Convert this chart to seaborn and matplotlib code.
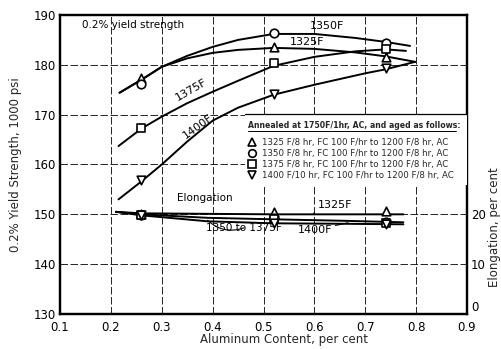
import numpy as np
import pandas as pd
import matplotlib
matplotlib.use("Agg")
import matplotlib.pyplot as plt
import seaborn as sns
from matplotlib.lines import Line2D
from matplotlib.patches import Rectangle

sns.set_style("white")
plt.rcParams['font.family'] = ['DejaVu Sans']

# ---------------- data ----------------
aluminum = [0.26, 0.52, 0.74]

# 0.2% yield strength, 1000 psi (markers)
ys_1325 = [177.3, 183.6, 181.6]
ys_1350 = [176.2, 186.3, 184.4]
ys_1375 = [167.3, 180.4, 183.1]
ys_1400 = [156.9, 174.1, 179.3]

# yield-strength curves
curve_x_1325 = [0.217, 0.26, 0.30, 0.35, 0.40, 0.45, 0.52, 0.60, 0.68, 0.74, 0.798]
curve_y_1325 = [174.4, 177.0, 179.6, 181.3, 182.4, 183.0, 183.4, 183.2, 182.5, 181.7, 180.6]
curve_x_1350 = [0.217, 0.26, 0.30, 0.35, 0.40, 0.45, 0.52, 0.60, 0.68, 0.74, 0.788]
curve_y_1350 = [174.4, 177.0, 179.6, 181.8, 183.6, 185.0, 186.2, 186.2, 185.4, 184.6, 183.8]
curve_x_1375 = [0.215, 0.26, 0.30, 0.35, 0.40, 0.45, 0.52, 0.60, 0.68, 0.74, 0.78]
curve_y_1375 = [163.7, 167.2, 169.6, 172.3, 174.6, 176.8, 179.8, 181.6, 182.7, 183.1, 182.8]
curve_x_1400 = [0.215, 0.26, 0.30, 0.35, 0.40, 0.45, 0.52, 0.60, 0.70, 0.74, 0.798]
curve_y_1400 = [153.0, 156.6, 160.0, 164.6, 168.8, 171.4, 174.0, 176.0, 178.3, 179.1, 180.6]

# elongation, per cent (markers)
el_1325 = [20.0, 20.5, 20.6]
el_1350 = [19.9, 19.3, 18.4]
el_1375 = [19.9, 19.1, 18.2]
el_1400 = [19.8, 18.3, 18.1]

# elongation lines
el_line_x = [0.21, 0.26, 0.39, 0.52, 0.66, 0.775]
el_line_1325 = [20.5, 20.2, 20.1, 20.0, 20.0, 20.0]
el_line_1350_1375 = [20.5, 20.0, 19.3, 19.0, 18.7, 18.4]
el_line_1400 = [20.5, 19.8, 18.6, 18.2, 18.1, 18.0]

x_ticks = [0.1, 0.2, 0.3, 0.4, 0.5, 0.6, 0.7, 0.8, 0.9]
x_tick_labels = ["0.1", "0.2", "0.3", "0.4", "0.5", "0.6", "0.7", "0.8", "0.9"]
y_ticks = [130, 140, 150, 160, 170, 180, 190]
el_ticks = [0, 10, 20]

legend_labels = [
    "1325 F/8 hr, FC 100 F/hr to 1200 F/8 hr, AC",
    "1350 F/8 hr, FC 100 F/hr to 1200 F/8 hr, AC",
    "1375 F/8 hr, FC 100 F/hr to 1200 F/8 hr, AC",
    "1400 F/10 hr, FC 100 F/hr to 1200 F/8 hr, AC",
]
legend_title = "Annealed at 1750F/1hr, AC, and aged as follows:"

# ---------------- figure ----------------
W, H = 502, 349
fig = plt.figure(figsize=(W / 100, H / 100), dpi=100)
ax = fig.add_axes([60 / W, 35 / H, 407 / W, 299 / H])
ax2 = ax.twinx()

ax.set_xlim(0.1, 0.9)
ax.set_ylim(130, 190)

ax.set_xticks(x_ticks)
ax.set_xticklabels(x_tick_labels)
ax.set_yticks(y_ticks)

ax.grid(True, color="black", linewidth=0.6, linestyle=(0, (9, 3)))
for a in (ax, ax2):
    for sp in a.spines.values():
        sp.set_linewidth(1.6)
        sp.set_color("black")

ax.tick_params(axis="y", length=0, labelsize=8.5, pad=3, colors="black")
ax.tick_params(axis="x", length=0, labelsize=8.5, pad=5, colors="black")
ax2.tick_params(axis="y", length=0, labelsize=8.5, pad=3, colors="black")

lw = 1.4
msize = 38
markers = ["^", "o", "s", "v"]
ys_sets = [ys_1325, ys_1350, ys_1375, ys_1400]
curves = [(curve_x_1325, curve_y_1325), (curve_x_1350, curve_y_1350),
          (curve_x_1375, curve_y_1375), (curve_x_1400, curve_y_1400)]

for cx, cy in curves:
    sns.lineplot(x=cx, y=cy, ax=ax, color="black", linewidth=lw, sort=False,
                 estimator=None, zorder=3)

for m, ys in zip(markers, ys_sets):
    sns.scatterplot(x=aluminum, y=ys, ax=ax, marker=m, s=msize, facecolor="white",
                    edgecolor="black", linewidth=1.2, zorder=4, legend=False)

# elongation
for el in [el_line_1325, el_line_1350_1375, el_line_1400]:
    sns.lineplot(x=el_line_x, y=el, ax=ax2, color="black", linewidth=lw,
                 sort=False, estimator=None, zorder=3)
el_sets = [el_1325, el_1350, el_1375, el_1400]
for m, el in zip(markers, el_sets):
    sns.scatterplot(x=aluminum, y=el, ax=ax2, marker=m, s=msize, facecolor="white",
                    edgecolor="black", linewidth=1.2, zorder=4, legend=False)
ax2.set_ylim(0, 60)
ax2.set_yticks(el_ticks)
ax2.set_ylabel("")
for lbl in ax2.get_yticklabels():
    if lbl.get_text() == "0":
        lbl.set_va("bottom")

# labels
ax.set_xlabel("")
ax.set_ylabel("0.2% Yield Strength, 1000 psi", fontsize=8.5, labelpad=8)
fig.text(284 / W, 1 - 340 / H, "Aluminum Content, per cent", ha="center",
         va="center", fontsize=8.5)
fig.text(495 / W, 1 - 227 / H, "Elongation, per cent", ha="center",
         va="center", rotation=90, fontsize=8.5)

# annotations
tk = dict(color="black", zorder=6)
ax.text(0.143, 188.0, "0.2% yield strength", ha="left", va="center", fontsize=7.5, **tk)
ax.text(0.625, 187.8, "1350F", ha="center", va="center", fontsize=8, **tk)
ax.text(0.586, 184.6, "1325F", ha="center", va="center", fontsize=8, **tk)
ax.text(0.359, 174.9, "1375F", ha="center", va="center", fontsize=8, rotation=30, **tk)
ax.text(0.371, 167.6, "1400F", ha="center", va="center", fontsize=8, rotation=36, **tk)
ax.text(0.385, 153.3, "Elongation", ha="center", va="center", fontsize=7.5, **tk)
ax.annotate("1325F", xy=(0.598, 150.1), xytext=(0.640, 151.9), ha="center",
            va="center", fontsize=8,
            arrowprops=dict(arrowstyle="-", color="black", lw=0.8,
                            connectionstyle="arc3,rad=0.3",
                            shrinkA=8, shrinkB=0), **tk)
ax.annotate("1350 to 1375F", xy=(0.390, 148.8), xytext=(0.462, 147.3), ha="center",
            va="center", fontsize=7.5,
            arrowprops=dict(arrowstyle="-", color="black", lw=0.8,
                            connectionstyle="arc3,rad=-0.3",
                            shrinkA=32, shrinkB=0), **tk)
ax.annotate("1400F", xy=(0.666, 148.3), xytext=(0.601, 146.9), ha="center",
            va="center", fontsize=8,
            arrowprops=dict(arrowstyle="-", color="black", lw=0.8,
                            shrinkA=10, shrinkB=0), **tk)

# legend box: white panel, top rule, underlined title, entries
ax2.add_patch(Rectangle((0.455, 0.43), 0.545, 0.238, transform=ax2.transAxes,
                        facecolor="white", edgecolor="none", zorder=9))
ax2.plot([0.455, 1.0], [0.668, 0.668], transform=ax2.transAxes, color="black",
         lw=0.9, zorder=11, clip_on=False)
ax2.text(0.463, 0.629, legend_title, transform=ax2.transAxes, ha="left",
         va="center", fontsize=5.6, fontweight="bold", zorder=11)
ax2.plot([0.463, 0.972], [0.612, 0.612], transform=ax2.transAxes, color="black",
         lw=0.7, zorder=11, clip_on=False)

handles = [Line2D([], [], linestyle="none", marker=m, markersize=5.5,
                  markerfacecolor="white", markeredgecolor="black",
                  markeredgewidth=1.2) for m in markers]
leg = ax2.legend(handles, legend_labels, loc="upper left",
                 bbox_to_anchor=(0.461, 0.588), fontsize=6.2, frameon=False,
                 borderpad=0, labelspacing=0.22, handlelength=1.0,
                 handletextpad=0.7, borderaxespad=0)
leg.set_zorder(12)

fig.savefig("out.png", dpi=100)
